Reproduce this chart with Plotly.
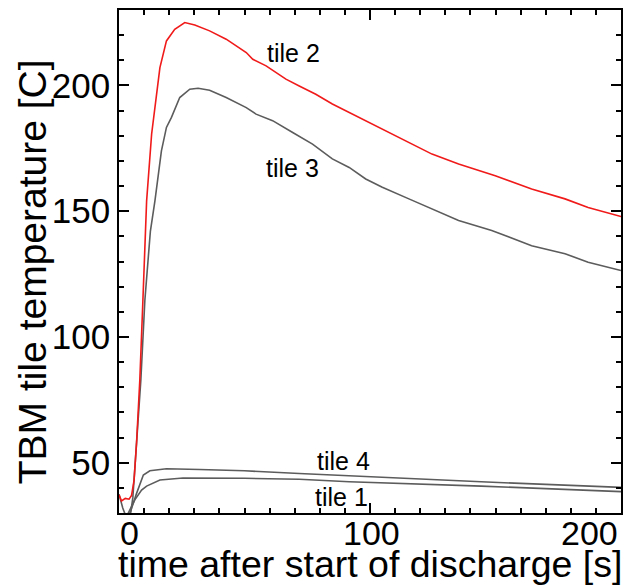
import plotly.graph_objects as go

# ---- data ----
tile2_t = [0, 1, 2.5, 4, 5, 6, 7, 8.3, 9.5, 10.3, 11, 13, 16.3, 18.9, 22.2, 26.2, 30.2, 36.1, 42.7,
           50.7, 53.3, 58.6, 66.5, 71.8, 78.4, 85, 91.7, 98.3, 104.9, 114.2, 124.7, 135.3, 149.9,
           164.4, 177.7, 186.9, 200]
tile2_T = [37.2, 34.8, 35.8, 35.5, 37, 43, 58, 83, 114, 135, 154, 180.7, 207.1, 217.7, 222.3, 225.0,
           224.0, 221.7, 218.4, 213.1, 210.4, 207.8, 202.5, 199.8, 196.5, 192.6, 189.2, 186.0, 182.7,
           178.0, 172.7, 168.8, 164.1, 158.8, 154.9, 151.5, 147.9]

tile3_t = [0, 1.5, 3, 4.5, 5.5, 6.5, 7.5, 8.7, 10.3, 11.5, 12.5, 14.3, 16.9, 18.9, 20.9, 24.2, 28.2,
           31.5, 36.1, 42.7, 50.7, 54.6, 61.2, 69.2, 77.1, 85, 91.7, 98.3, 104.9, 115.5, 124.7, 135.3,
           148.5, 164.4, 177.7, 186.9, 200]
tile3_T = [37.5, 32, 28, 29, 36, 50, 65, 82.8, 114.5, 130.4, 142, 154, 174, 183.3, 187.3, 195.2, 198.5,
           198.9, 198.1, 195.2, 191.2, 188.6, 186.0, 181.3, 176.7, 170.8, 167.4, 162.8, 159.5, 154.9,
           150.9, 146.3, 142.3, 136.3, 133.1, 129.7, 126.4]

tile4_t = [0, 4.4, 7.0, 9.0, 9.7, 12.3, 18.9, 32.1, 50, 71.8, 91.7, 144.3, 200]
tile4_T = [27, 30, 37.8, 43.8, 45.1, 46.8, 47.6, 47.3, 46.8, 45.7, 44.8, 42.4, 40.2]

tile1_t = [0, 3.7, 6.3, 9.0, 11.0, 16.3, 25.5, 50, 71.8, 91.7, 144.3, 200]
tile1_T = [26, 30, 35.2, 39.1, 40.7, 43.1, 43.9, 43.8, 43.4, 42.4, 40.7, 38.5]

x_tick_vals = [0, 100, 200]
x_tick_text = ["0", "100", "200"]
y_tick_vals = [50, 100, 150, 200]

labels = ["tile 2", "tile 3", "tile 4", "tile 1"]
label_t = [69.5, 69.0, 89.3, 88.5]
label_T = [212.9, 167.2, 50.5, 36.5]

x_title = "time after start of discharge [s]"
y_title = "TBM tile temperature [C]"

RED = "#f01a1a"
GRAY = "#5c5c5c"
FONT = "Liberation Sans, Arial, Helvetica, sans-serif"

fig = go.Figure()
fig.add_trace(go.Scatter(x=tile1_t, y=tile1_T, mode="lines", line=dict(color=GRAY, width=1.6)))
fig.add_trace(go.Scatter(x=tile4_t, y=tile4_T, mode="lines", line=dict(color=GRAY, width=1.6)))
fig.add_trace(go.Scatter(x=tile3_t, y=tile3_T, mode="lines", line=dict(color=GRAY, width=1.6)))
fig.add_trace(go.Scatter(x=tile2_t, y=tile2_T, mode="lines", line=dict(color=RED, width=1.6)))

axis_common = dict(
    showgrid=False, zeroline=False, showline=True, linecolor="black", linewidth=1.5,
    mirror="ticks", ticks="inside", ticklen=10, tickwidth=1.5, tickcolor="black",
)

fig.update_xaxes(range=[0, 200], tickvals=x_tick_vals, showticklabels=False,
                 minor=dict(ticks="inside", ticklen=5, dtick=10, tickwidth=1.5, tickcolor="black"),
                 **axis_common)
fig.update_yaxes(range=[30, 230], tickvals=y_tick_vals,
                 tickfont=dict(family=FONT, size=35, color="black"),
                 minor=dict(ticks="inside", ticklen=5, dtick=10, tickwidth=1.5, tickcolor="black"),
                 **axis_common)

xshifts = [10, 1, -32]
for v, txt, sh in zip(x_tick_vals, x_tick_text, xshifts):
    fig.add_annotation(x=v, xref="x", y=0, yref="paper", text=txt, showarrow=False,
                       xanchor="center", yanchor="top", xshift=sh, yshift=1,
                       font=dict(family=FONT, size=34, color="black"))

for txt, tx, ty in zip(labels, label_t, label_T):
    fig.add_annotation(x=tx, y=ty, xref="x", yref="y", text=txt, showarrow=False,
                       xanchor="center", yanchor="middle",
                       font=dict(family=FONT, size=25, color="black"))

fig.add_annotation(x=0.5, xref="paper", y=-0.102, yref="paper", text=x_title, showarrow=False,
                   xanchor="center", yanchor="middle", font=dict(family=FONT, size=37.5, color="black"))
fig.add_annotation(x=-0.172, xref="paper", y=0.48, yref="paper", text=y_title, showarrow=False,
                   textangle=-90, xanchor="center", yanchor="middle",
                   font=dict(family=FONT, size=39, color="black"))

fig.update_layout(
    width=627, height=585,
    margin=dict(l=119, r=4, t=10, b=72),
    paper_bgcolor="white", plot_bgcolor="white",
    showlegend=False,
)

fig.write_html("out.html")
